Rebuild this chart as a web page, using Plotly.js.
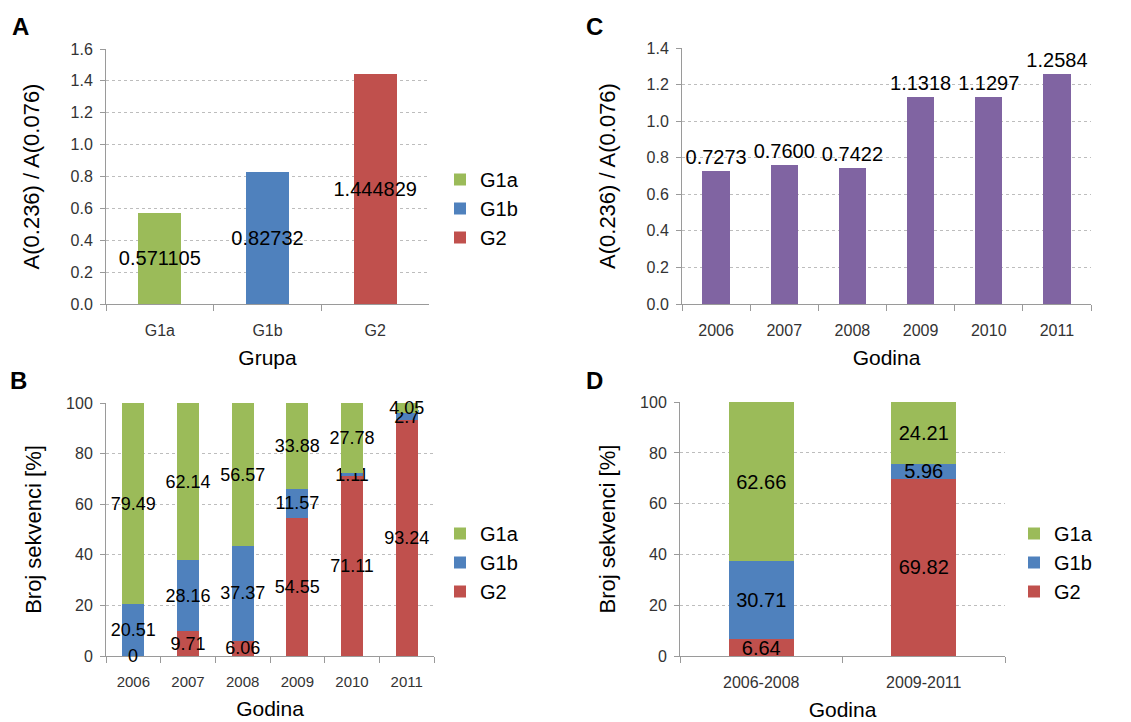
<!DOCTYPE html>
<html>
<head>
<meta charset="utf-8">
<script src="https://cdn.plot.ly/plotly-3.0.1.min.js"></script>
<style>html,body{margin:0;padding:0;background:#fff;}#chart{width:1131px;height:722px;}</style>
</head>
<body>
<div id="chart"></div>
<script>
// ---- data ----
const groups = ['G1a', 'G1b', 'G2'];
const ratioByGroup = [0.571105, 0.82732, 1.444829];

const years = ['2006', '2007', '2008', '2009', '2010', '2011'];
const ratioByYear = [0.7273, 0.7600, 0.7422, 1.1318, 1.1297, 1.2584];

const yearG1a = [79.49, 62.14, 56.57, 33.88, 27.78, 4.05];
const yearG1b = [20.51, 28.16, 37.37, 11.57, 1.11, 2.7];
const yearG2  = [0, 9.71, 6.06, 54.55, 71.11, 93.24];

const periods = ['2006-2008', '2009-2011'];
const periodG1a = [62.66, 24.21];
const periodG1b = [30.71, 5.96];
const periodG2  = [6.64, 69.82];

// ---- styles ----
const W = 1131, H = 722;
const colors = {G1a: '#9BBB59', G1b: '#4F81BD', G2: '#C0504D'};
const purple = '#8064A2';
const FONT = 'Liberation Sans, Arial, sans-serif';
const px = v => v / W;
const py = v => 1 - v / H;

const labelFont = {family: FONT, size: 20, color: '#000'};

function barTrace(x, y, name, color, xa, ya, legend, textsize) {
  return {
    type: 'bar', x: x, y: y, name: name, xaxis: xa, yaxis: ya,
    marker: {color: color, line: {width: 0}},
    text: y.map(v => String(v)), texttemplate: '%{text}',
    textposition: 'inside', insidetextanchor: 'middle',
    constraintext: 'none', textangle: 0,
    textfont: {family: FONT, size: textsize, color: '#000'},
    insidetextfont: {family: FONT, size: textsize, color: '#000'},
    cliponaxis: false, hoverinfo: 'skip',
    legend: legend, showlegend: true
  };
}

// zero-height segments get no bar text from Plotly; label them with annotations
// at their data position (category index on the category axis)
function zeroLabels(y, xa, ya, size) {
  const out = [];
  y.forEach((v, i) => {
    if (v === 0) out.push({x: i, y: v, xref: xa, yref: ya, text: String(v), showarrow: false,
      xanchor: 'center', yanchor: 'middle', font: {family: FONT, size: size, color: '#000'}});
  });
  return out;
}

const traces = [];
// Panel A
groups.forEach((g, i) => {
  traces.push(barTrace([g], [ratioByGroup[i]], g, colors[g], 'x', 'y', 'legend', 20));
});
// Panel B (stack bottom->top: G2, G1b, G1a)
traces.push(barTrace(years, yearG2, 'G2', colors.G2, 'x2', 'y2', 'legend2', 18));
traces.push(barTrace(years, yearG1b, 'G1b', colors.G1b, 'x2', 'y2', 'legend2', 18));
traces.push(barTrace(years, yearG1a, 'G1a', colors.G1a, 'x2', 'y2', 'legend2', 18));
// Panel C
traces.push({
  type: 'bar', x: years, y: ratioByYear, xaxis: 'x3', yaxis: 'y3', name: 'ratio',
  marker: {color: purple, line: {width: 0}},
  texttemplate: '%{y:.4f}', textposition: 'outside', constraintext: 'none', textangle: 0,
  textfont: labelFont, outsidetextfont: labelFont,
  cliponaxis: false, hoverinfo: 'skip', showlegend: false
});
// Panel D
traces.push(barTrace(periods, periodG2, 'G2', colors.G2, 'x4', 'y4', 'legend3', 20));
traces.push(barTrace(periods, periodG1b, 'G1b', colors.G1b, 'x4', 'y4', 'legend3', 20));
traces.push(barTrace(periods, periodG1a, 'G1a', colors.G1a, 'x4', 'y4', 'legend3', 20));

const axisLine = '#9A9A9A';
function xAxis(domain, anchor, title, tsize, cats) {
  return {
    domain: domain, anchor: anchor, type: 'category',
    categoryorder: 'array', categoryarray: cats, range: [-0.5, cats.length - 0.5],
    showline: true, linecolor: axisLine, linewidth: 1,
    ticks: 'outside', tickson: 'boundaries', ticklen: 6, tickcolor: axisLine,
    ticklabelstandoff: 12,
    showgrid: false, zeroline: false, fixedrange: true,
    tickfont: {family: FONT, size: tsize, color: '#333'},
    title: {text: title, font: {family: FONT, size: 21, color: '#000'}, standoff: 12}
  };
}
function yAxis(domain, anchor, range, dtick, fmt, title, standoff) {
  return {
    domain: domain, anchor: anchor, range: range, dtick: dtick, tick0: 0, tickformat: fmt,
    showline: true, linecolor: axisLine, linewidth: 1,
    ticks: 'outside', ticklen: 5, tickcolor: axisLine,
    ticklabelstandoff: 4,
    showgrid: true, gridcolor: '#BDBDBD', gridwidth: 1, griddash: '3px,3px',
    zeroline: false, fixedrange: true,
    tickfont: {family: FONT, size: 16, color: '#333'},
    title: {text: title, font: {family: FONT, size: 22, color: '#000'}, standoff: standoff}
  };
}

function legendAt(left, top, order) {
  return {
    x: px(left), y: py(top), xanchor: 'left', yanchor: 'top',
    font: {family: FONT, size: 20, color: '#000'},
    bgcolor: 'rgba(0,0,0,0)', traceorder: order, itemclick: false, itemdoubleclick: false
  };
}

function letter(t, x, y) {
  return {text: '<b>' + t + '</b>', x: px(x), y: py(y), xref: 'paper', yref: 'paper',
          xanchor: 'center', yanchor: 'middle', showarrow: false,
          font: {family: FONT, size: 24, color: '#000'}};
}

const layout = {
  width: W, height: H,
  margin: {l: 0, r: 0, t: 0, b: 0},
  paper_bgcolor: '#fff', plot_bgcolor: 'rgba(0,0,0,0)',
  barmode: 'stack', bargap: 0.6,
  font: {family: FONT, color: '#000'},
  xaxis:  xAxis([px(106), px(429)], 'y', 'Grupa', 16, groups),
  yaxis:  yAxis([py(304), py(49)], 'x', [0, 1.6], 0.2, '.1f', 'A(0.236) / A(0.076)', 24),
  xaxis2: xAxis([px(106), px(434)], 'y2', 'Godina', 15, years),
  yaxis2: yAxis([py(656), py(403)], 'x2', [0, 100.05], 20, '', 'Broj sekvenci [%]', 18),
  xaxis3: xAxis([px(682), px(1091)], 'y3', 'Godina', 16, years),
  yaxis3: yAxis([py(304), py(48)], 'x3', [0, 1.4], 0.2, '.1f', 'A(0.236) / A(0.076)', 24),
  xaxis4: xAxis([px(680), px(1005)], 'y4', 'Godina', 16, periods),
  yaxis4: yAxis([py(656), py(402)], 'x4', [0, 100.05], 20, '', 'Broj sekvenci [%]', 18),
  legend:  legendAt(440, 160, 'normal'),
  legend2: legendAt(440, 514, 'reversed'),
  legend3: legendAt(1014, 514, 'reversed'),
  annotations: [letter('A', 20, 27), letter('B', 18, 380), letter('C', 594, 27), letter('D', 594, 380)]
    .concat(zeroLabels(yearG2, 'x2', 'y2', 18))
    .concat(zeroLabels(periodG2, 'x4', 'y4', 20)),
  showlegend: true
};

Plotly.newPlot('chart', traces, layout, {displayModeBar: false, staticPlot: true});
</script>
</body>
</html>
